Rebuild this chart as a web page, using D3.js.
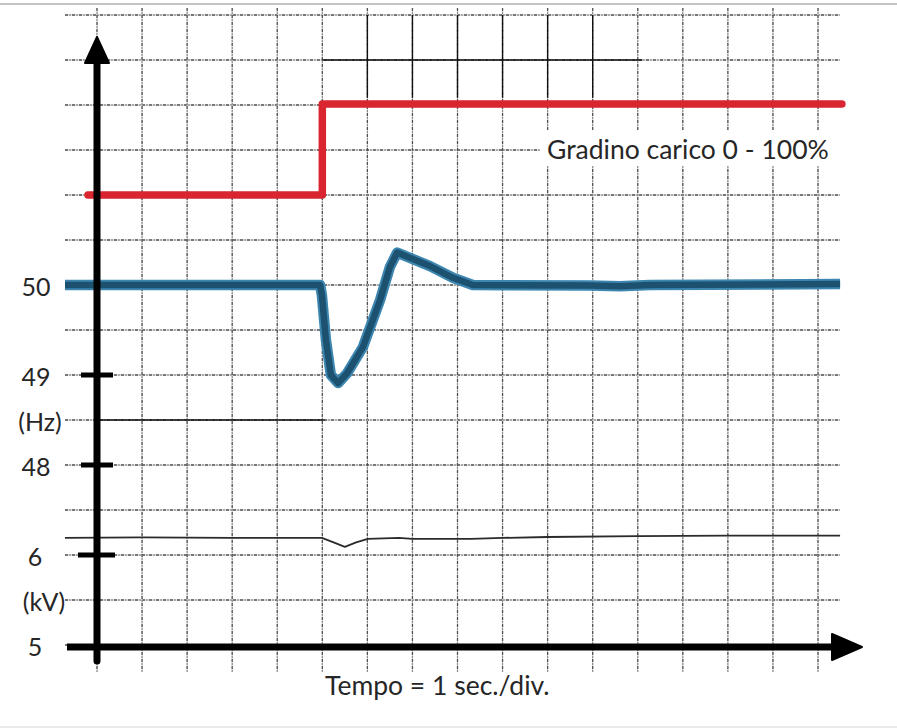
<!DOCTYPE html>
<html>
<head>
<meta charset="utf-8">
<script src="https://cdn.jsdelivr.net/npm/d3@7"></script>
<style>
  html, body { margin: 0; padding: 0; background: #fff; }
  svg { display: block; }
  text { font-family: Lato, "Open Sans", sans-serif; fill: #262626; }
</style>
</head>
<body>
<svg id="chart" width="897" height="728"></svg>
<script>
// Time base: 1 s per division
const gridSeconds = d3.range(0, 17, 1);

// Load step (percent of rated load)
const loadTime = [-0.2, 5.0, 5.0, 16.53];
const loadPct  = [0, 0, 100, 100];

// Frequency response (Hz)
const freqTime = [-0.71, 4.95, 4.99, 5.08, 5.19, 5.35, 5.55, 5.90, 6.28, 6.50, 6.66, 7.39, 7.90, 8.34, 10.94, 11.60, 12.27, 16.49];
const freqHz   = [50.0, 50.0, 49.89, 49.39, 49.0, 48.91, 49.02, 49.31, 49.83, 50.20, 50.36, 50.21, 50.08, 50.0, 49.995, 49.985, 50.0, 50.01];

// Generator voltage (kV)
const voltTime = [-0.71, 1.0, 3.0, 4.99, 5.25, 5.50, 5.75, 6.01, 6.7, 7.0, 7.6, 8.3, 9.0, 10.0, 12.0, 14.0, 16.49];
const voltKV   = [6.19, 6.195, 6.19, 6.19, 6.14, 6.09, 6.14, 6.18, 6.19, 6.18, 6.18, 6.18, 6.19, 6.20, 6.21, 6.215, 6.215];

// Axis labels
const hzTicks = [50, 49, 48];
const hzTickMarks = [49, 48];
const kvTicks = [6, 5];
const kvTickMarks = [6];
const hzUnit = "(Hz)";
const kvUnit = "(kV)";
const stepLabel = "Gradino carico 0 - 100%";
const timeLabel = "Tempo = 1 sec./div.";

const svg = d3.select("#chart");

const x = d3.scaleLinear().domain([0, 16]).range([97, 818]);
const yHz = d3.scaleLinear().domain([48, 50]).range([465, 285]);
const yKV = d3.scaleLinear().domain([5, 6]).range([645, 555]);
const yLoad = d3.scaleLinear().domain([0, 100]).range([195, 104]);

// frame lines of the sheet
svg.append("line").attr("x1", 0).attr("x2", 897).attr("y1", 4).attr("y2", 4)
  .attr("stroke", "#c4c4c4").attr("stroke-width", 2);
svg.append("line").attr("x1", 0).attr("x2", 897).attr("y1", 727).attr("y2", 727)
  .attr("stroke", "#e2e2e2").attr("stroke-width", 1.5);

// recorder paper grid: horizontal every 0.5 Hz, vertical every second
const gridHz = d3.range(46, 53.01, 0.5);
const grid = svg.append("g");
const gx0 = 65, gx1 = 840, gy0 = 8, gy1 = 672;

function gridLine(g, x1, y1, x2, y2) {
  g.append("line").attr("x1", x1).attr("y1", y1).attr("x2", x2).attr("y2", y2)
    .attr("stroke", "#c4c4c4").attr("stroke-width", 1);
  g.append("line").attr("x1", x1).attr("y1", y1).attr("x2", x2).attr("y2", y2)
    .attr("stroke", "#3c3c3c").attr("stroke-width", 1.3)
    .attr("stroke-dasharray", "3 1.5 1 1.5").attr("opacity", 0.85);
}
gridHz.forEach(h => gridLine(grid, gx0, yHz(h), gx1, yHz(h)));
gridSeconds.forEach(s => gridLine(grid, x(s), gy0, x(s), gy1));

// solid ruled segments on the sheet
const solid = svg.append("g").attr("stroke", "#111").attr("stroke-width", 1.4);
solid.append("line").attr("x1", x(5)).attr("x2", x(12.1)).attr("y1", yHz(52.5)).attr("y2", yHz(52.5));
[6, 7, 8, 9, 10, 11].forEach(s =>
  solid.append("line").attr("x1", x(s)).attr("x2", x(s)).attr("y1", yHz(53)).attr("y2", yHz(52.08)));
solid.append("line").attr("x1", x(0)).attr("x2", x(5.05)).attr("y1", yHz(48.5)).attr("y2", yHz(48.5));

// load step
const loadLine = d3.line().x(d => x(d[0])).y(d => yLoad(d[1]));
svg.append("path")
  .attr("d", loadLine(d3.zip(loadTime, loadPct)))
  .attr("fill", "none").attr("stroke", "#d9252f").attr("stroke-width", 7.5)
  .attr("stroke-linecap", "round").attr("stroke-linejoin", "round");

// frequency trace
const freqLine = d3.line().x(d => x(d[0])).y(d => yHz(d[1]));
const freqPts = d3.zip(freqTime, freqHz);
svg.append("path").attr("d", freqLine(freqPts))
  .attr("fill", "none").attr("stroke", "#3d86b0").attr("stroke-width", 10.5)
  .attr("stroke-linejoin", "round");
svg.append("path").attr("d", freqLine(freqPts))
  .attr("fill", "none").attr("stroke", "#1c5170").attr("stroke-width", 6.5)
  .attr("stroke-linejoin", "round");

// voltage trace
const voltLine = d3.line().x(d => x(d[0])).y(d => yKV(d[1]));
svg.append("path").attr("d", voltLine(d3.zip(voltTime, voltKV)))
  .attr("fill", "none").attr("stroke", "#2b2b2b").attr("stroke-width", 1.8)
  .attr("stroke-linejoin", "round");

// axes with arrow heads
const axes = svg.append("g");
axes.append("line").attr("x1", x(0)).attr("x2", x(0)).attr("y1", 58).attr("y2", 661)
  .attr("stroke", "#000").attr("stroke-width", 7).attr("stroke-linecap", "round");
axes.append("path").attr("d", `M${x(0)},37 L${x(0) + 12},63 L${x(0) - 12},63 Z`)
  .attr("fill", "#000").attr("stroke", "#000").attr("stroke-width", 2).attr("stroke-linejoin", "round");
axes.append("line").attr("x1", 67).attr("x2", 838).attr("y1", yKV(5) + 2).attr("y2", yKV(5) + 2)
  .attr("stroke", "#000").attr("stroke-width", 7);
axes.append("path").attr("d", `M862,${yKV(5) + 2} L832,${yKV(5) - 11} L832,${yKV(5) + 15} Z`)
  .attr("fill", "#000").attr("stroke", "#000").attr("stroke-width", 2).attr("stroke-linejoin", "round");

// tick marks crossing the vertical axis
hzTickMarks.forEach(v => axes.append("line").attr("x1", x(0) - 16).attr("x2", x(0) + 16)
  .attr("y1", yHz(v)).attr("y2", yHz(v)).attr("stroke", "#000").attr("stroke-width", 5));
kvTickMarks.forEach(v => axes.append("line").attr("x1", x(0) - 19).attr("x2", x(0) + 18)
  .attr("y1", yKV(v)).attr("y2", yKV(v)).attr("stroke", "#000").attr("stroke-width", 5));

// tick labels
const fs = 25;
hzTicks.forEach(v => svg.append("text").attr("x", 36).attr("y", yHz(v) + 1)
  .attr("text-anchor", "middle").attr("dominant-baseline", "central")
  .attr("font-size", fs).text(v));
svg.append("text").attr("x", 40).attr("y", yHz(48.5) + 1)
  .attr("text-anchor", "middle").attr("dominant-baseline", "central")
  .attr("font-size", fs).text(hzUnit);
kvTicks.forEach(v => svg.append("text").attr("x", 35).attr("y", yKV(v) + 1)
  .attr("text-anchor", "middle").attr("dominant-baseline", "central")
  .attr("font-size", fs).text(v));
svg.append("text").attr("x", 44).attr("y", yKV(5.5) + 1)
  .attr("text-anchor", "middle").attr("dominant-baseline", "central")
  .attr("font-size", fs).text(kvUnit);

// step annotation on a cleared patch of paper
const capFs = 26.5;
svg.append("rect").attr("x", 540).attr("y", 130).attr("width", 300).attr("height", 36).attr("fill", "#fff");
svg.append("text").attr("x", 547).attr("y", 159).attr("font-size", capFs).text(stepLabel);

// time base caption
svg.append("text").attr("x", 325).attr("y", 695).attr("font-size", capFs).text(timeLabel);
</script>
</body>
</html>
